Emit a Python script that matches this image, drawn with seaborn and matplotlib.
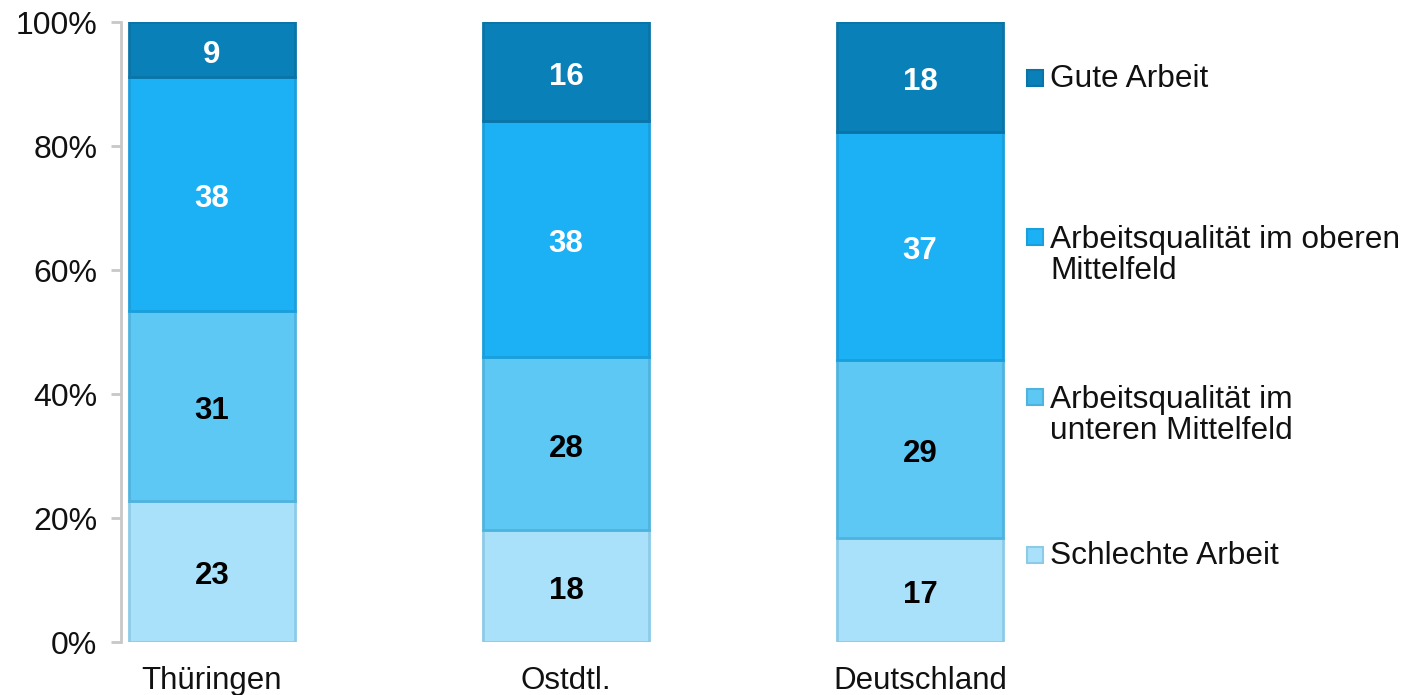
###################################################################################################
# Required Libraries
###################################################################################################
import numpy as np
import pandas as pd
import matplotlib
matplotlib.use("Agg")
import matplotlib.pyplot as plt
import matplotlib.patches as mpatches
import seaborn as sns

###################################################################################################
# Data
###################################################################################################
regions = ["Thüringen", "Ostdtl.", "Deutschland"]
categories = ["Schlechte Arbeit",
              "Arbeitsqualität im\nunteren Mittelfeld",
              "Arbeitsqualität im oberen\nMittelfeld",
              "Gute Arbeit"]
schlechte = [23, 18, 17]
unteren = [31, 28, 29]
oberen = [38, 38, 37]
gute = [9, 16, 18]
yticks = [0, 20, 40, 60, 80, 100]

fill_colors = ["#AAE1FA", "#5EC8F5", "#1CB0F5", "#0A80B8"]
edge_colors = ["#8CCBE8", "#4FB3DE", "#1A9FDD", "#0A74A8"]
text_colors = ["black", "black", "white", "white"]


###################################################################################################
# build a long table with shares normalised to 100 %
###################################################################################################
def BuildTable():
    values = np.array([schlechte, unteren, oberen, gute], dtype=float)
    shares = values / values.sum(axis=0) * 100
    rows = []
    for i, cat in enumerate(categories):
        for j, reg in enumerate(regions):
            rows.append({"region": reg, "category": cat, "raw": values[i, j], "share": shares[i, j]})
    return pd.DataFrame(rows), shares


###################################################################################################
# draw the stacked bars
###################################################################################################
def DrawBars(ax, df, shares):
    bottoms = np.zeros(len(regions))
    for i, cat in enumerate(categories):
        part = df[df["category"] == cat]
        sns.barplot(data=part, x="region", y="share", order=regions, bottom=bottoms,
                    color=fill_colors[i], edgecolor=edge_colors[i], linewidth=2,
                    width=0.47, saturation=1, errorbar=None, ax=ax)
        for j, reg in enumerate(regions):
            raw = part[part["region"] == reg]["raw"].iloc[0]
            ax.annotate(f"{raw:.0f}", (j, bottoms[j] + shares[i, j] / 2),
                        xytext=(0, -3.6), textcoords="offset points",
                        ha="center", va="center", fontsize=22.5, fontweight="bold",
                        color=text_colors[i])
        bottoms = bottoms + shares[i]


###################################################################################################
# legend on the right
###################################################################################################
def DrawLegend(fig):
    W, H = 1404, 695
    first_line = [555, 397, 237, 78]
    spacing = 35
    for i, cat in enumerate(categories):
        n = cat.count("\n") + 1
        yc = first_line[i]
        fig.patches.append(mpatches.Rectangle((1027 / W, 1 - (yc + 8) / H), 16 / W, 16 / H,
                                              transform=fig.transFigure, facecolor=fill_colors[i],
                                              edgecolor=edge_colors[i], linewidth=1.5))
        ymid = yc + (n - 1) * spacing / 2
        fig.text(1050 / W, 1 - (ymid + 1) / H, cat, ha="left", va="center", fontsize=22.8,
                 linespacing=1.08, color="#111111")


###################################################################################################
# main
###################################################################################################
def main():
    sns.set_style("white")
    plt.rcParams["font.family"] = ["Liberation Sans", "DejaVu Sans"]

    df, shares = BuildTable()

    fig = plt.figure(figsize=(14.04, 6.95), dpi=100)
    ax = fig.add_axes([121 / 1404, 1 - 642 / 695, (1010 - 121) / 1404, (642 - 22) / 695])

    DrawBars(ax, df, shares)

    ax.set_ylim(0, 100)
    ax.set_xlim(-0.257, 2.254)
    ax.set_yticks(yticks)
    ax.set_yticklabels([f"{t}%" for t in yticks])
    ax.set_xlabel("")
    ax.set_ylabel("")
    for side in ["top", "right", "bottom"]:
        ax.spines[side].set_visible(False)
    ax.spines["left"].set_color("#C8C8C8")
    ax.spines["left"].set_linewidth(2)
    ax.tick_params(axis="y", length=7, width=2, color="#C8C8C8", labelsize=23, pad=10,
                   left=True, labelcolor="#111111")
    ax.tick_params(axis="x", length=0, labelsize=22.5, pad=17, labelcolor="#111111")

    DrawLegend(fig)

    fig.savefig("out.png", dpi=100)


if __name__ == "__main__":
    main()
